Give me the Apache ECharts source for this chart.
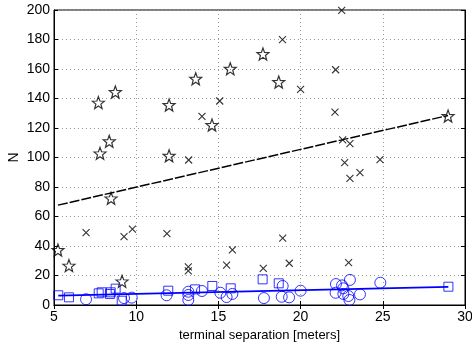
<!DOCTYPE html>
<html><head><meta charset="utf-8">
<script src="https://cdn.jsdelivr.net/npm/echarts@6/dist/echarts.min.js"></script>
<style>html,body{margin:0;padding:0;background:#fff}#c{width:472px;height:346px}</style>
</head><body><div id="c"></div>
<script>
var xTicks = [5, 10, 15, 20, 25, 30];
var yTicks = [0, 20, 40, 60, 80, 100, 120, 140, 160, 180, 200];
var blackStars = [[5.24,37.3],[5.91,26.7],[7.7,137.2],[7.8,102.8],[8.36,111],[8.47,72.3],[8.73,144.4],[9.14,16.0],[12.0,135.6],[12.0,101.2],[13.62,153.4],[14.61,122],[15.72,160.2],[17.71,170.2],[18.67,151.2],[28.97,128.1]];
var blackCrosses = [[6.95,49.0],[9.26,46.3],[9.77,51.5],[11.87,48.4],[13.17,25.8],[13.17,23.1],[13.19,98.3],[14.0,127.9],[15.08,138.3],[15.5,27.1],[15.85,37.3],[17.73,24.9],[18.9,179.9],[18.91,45.4],[19.31,28.3],[20.0,146.2],[22.09,130.8],[22.13,159.5],[22.5,199.8],[22.56,111.9],[22.68,96.5],[22.92,28.7],[23.0,109.4],[23.0,85.9],[23.61,89.7],[24.83,98.5]];
var blueSquares = [[5.26,6.6],[5.91,5.2],[7.72,7.9],[7.9,8.6],[8.4,7.5],[8.45,8.6],[8.75,11.1],[9.12,2.9],[11.95,9.7],[13.58,10.6],[14.63,12.9],[15.75,11.3],[17.69,17.4],[18.67,14.7],[28.99,12.4]];
var blueCircles = [[6.95,3.9],[9.26,4.7],[9.73,5.0],[11.85,6.6],[13.17,9.0],[13.17,6.8],[13.17,3.4],[14.0,9.5],[15.12,8.3],[15.5,5.4],[15.85,7.5],[17.77,4.7],[18.91,12.9],[18.85,5.6],[19.3,5.2],[20.0,9.7],[22.15,14.2],[22.13,8.3],[22.52,13.3],[22.6,11.3],[23.0,17.0],[22.6,7.5],[22.9,6.1],[22.97,3.4],[23.61,7.2],[24.85,15.1]];
var blackFit = [[5.24,67.7],[28.97,128.5]];
var blueFit = [[5.26,6.3],[28.99,12.3]];

// pentagram outline symbol
var sp = [];
for (var i = 0; i < 10; i++) {
  var r = (i % 2 === 0) ? 50 : 21;
  var a = -Math.PI / 2 + i * Math.PI / 5;
  sp.push((50 + r * Math.cos(a)).toFixed(2) + ',' + (50 + r * Math.sin(a)).toFixed(2));
}
var starPath = 'path://M' + sp.join('L') + 'Z';
var crossPath = 'path://M0,0L10,10M10,0L0,10';

var font = 'Liberation Sans, Arial, Helvetica, sans-serif';
var chart = echarts.init(document.getElementById('c'), null, {renderer: 'canvas'});
var axisLine = {show: true, lineStyle: {color: '#000', width: 1}};
var axisTick = {show: true, inside: true, length: 4, lineStyle: {color: '#000'}};
chart.setOption({
  animation: false,
  grid: {left: 54, right: 7, top: 10, bottom: 41, show: true, borderColor: '#000', borderWidth: 1,
         containLabel: false, outerBoundsMode: 'none'},
  xAxis: [{
    type: 'value', min: 5, max: 30, interval: 5,
    name: 'terminal separation [meters]', nameLocation: 'middle', nameGap: 19,
    nameTextStyle: {fontFamily: font, fontSize: 13, color: '#000'},
    axisLine: axisLine, axisTick: axisTick,
    axisLabel: {fontFamily: font, fontSize: 14, color: '#000', margin: 5,
      formatter: function (v) { return xTicks.indexOf(v) >= 0 ? String(v) : ''; }},
    splitLine: {show: true, lineStyle: {color: '#999', type: [1, 3], width: 1}}
  }, {
    type: 'value', min: 5, max: 30, interval: 5, position: 'top',
    axisLine: axisLine, axisTick: axisTick,
    axisLabel: {show: false}, splitLine: {show: false}
  }],
  yAxis: [{
    type: 'value', min: 0, max: 200, interval: 20,
    name: 'N', nameLocation: 'middle', nameGap: 33, nameRotate: 90, nameMoveOverlap: false,
    nameTextStyle: {fontFamily: font, fontSize: 14, color: '#000'},
    axisLine: axisLine, axisTick: axisTick,
    axisLabel: {fontFamily: font, fontSize: 14, color: '#000', margin: 4,
      formatter: function (v) { return yTicks.indexOf(v) >= 0 ? String(v) : ''; }},
    splitLine: {show: true, lineStyle: {color: '#999', type: [1, 3], width: 1}}
  }, {
    type: 'value', min: 0, max: 200, interval: 20, position: 'right',
    axisLine: axisLine, axisTick: axisTick,
    axisLabel: {show: false}, splitLine: {show: false}
  }],
  series: [
    {type: 'line', data: blackFit, symbol: 'none', z: 3,
     lineStyle: {color: '#000', width: 1.5, type: [10, 2]}},
    {type: 'line', data: blueFit, symbol: 'none', z: 3,
     lineStyle: {color: '#0000ff', width: 1.8}},
    {type: 'scatter', data: blackStars, symbol: starPath, symbolSize: 12, z: 4,
     itemStyle: {color: 'rgba(0,0,0,0)', borderColor: '#000', borderWidth: 1.2}},
    {type: 'scatter', data: blackCrosses, symbol: crossPath, symbolSize: 7, z: 4,
     itemStyle: {color: 'rgba(0,0,0,0)', borderColor: '#000', borderWidth: 1.1}},
    {type: 'scatter', data: blueSquares, symbol: 'rect', symbolSize: 9, z: 4,
     itemStyle: {color: 'rgba(0,0,0,0)', borderColor: '#0000ff', borderWidth: 1}},
    {type: 'scatter', data: blueCircles, symbol: 'circle', symbolSize: 11, z: 4,
     itemStyle: {color: 'rgba(0,0,0,0)', borderColor: '#0000ff', borderWidth: 1}}
  ]
});
</script></body></html>
